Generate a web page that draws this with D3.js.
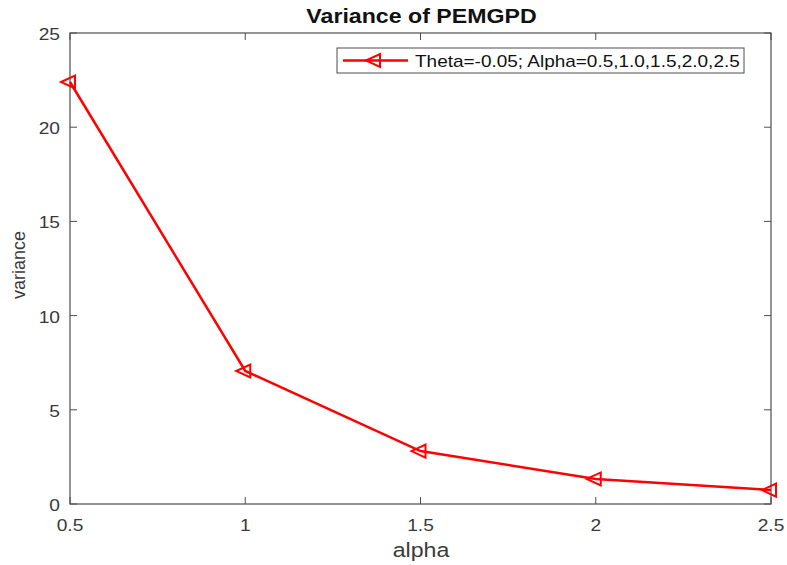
<!DOCTYPE html>
<html>
<head>
<script src="https://d3js.org/d3.v7.min.js"></script>
<style>
  body { margin: 0; background: #fff; }
  text { font-family: "Liberation Sans", Arial, sans-serif; }
</style>
</head>
<body>
<svg width="787" height="565" id="chart"></svg>
<script>
const alphaVals = [0.5, 1.0, 1.5, 2.0, 2.5];
const varianceVals = [22.4, 7.06, 2.81, 1.33, 0.74];
const xTicks = [0.5, 1, 1.5, 2, 2.5];
const yTicks = [0, 5, 10, 15, 20, 25];
const legendLabel = "Theta=-0.05; Alpha=0.5,1.0,1.5,2.0,2.5";

const svg = d3.select("#chart");
const margin = {left: 70, right: 16, top: 33, bottom: 61};
const W = 787, H = 565;
const axisCol = "#4d4d4d", textCol = "#3a3a3a", red = "#ff0000";
const sx = 1.13; // text in the picture is a bit wider than it is tall

const x = d3.scaleLinear().domain([0.5, 2.5]).range([margin.left, W - margin.right]);
const y = d3.scaleLinear().domain([0, 25]).range([H - margin.bottom, margin.top]);

// helper: stretched text
function txt(parent, px, py, str, size, anchor, col, weight) {
  return parent.append("text")
    .attr("transform", `translate(${px},${py}) scale(${sx},1)`)
    .attr("text-anchor", anchor).attr("font-size", size)
    .attr("font-weight", weight || "normal").attr("fill", col).text(str);
}

// box
svg.append("rect")
  .attr("x", x(0.5)).attr("y", y(25))
  .attr("width", x(2.5) - x(0.5)).attr("height", y(0) - y(25))
  .attr("fill", "none").attr("stroke", axisCol).attr("stroke-width", 1.2);

// ticks inward on all 4 sides
const tl = 7;
const g = svg.append("g");
xTicks.forEach(t => {
  g.append("line").attr("x1", x(t)).attr("x2", x(t)).attr("y1", y(0)).attr("y2", y(0) - tl).attr("stroke", axisCol);
  g.append("line").attr("x1", x(t)).attr("x2", x(t)).attr("y1", y(25)).attr("y2", y(25) + tl).attr("stroke", axisCol);
  txt(g, x(t), y(0) + 27, t, 17, "middle", textCol);
});
yTicks.forEach(t => {
  g.append("line").attr("x1", x(0.5)).attr("x2", x(0.5) + tl).attr("y1", y(t)).attr("y2", y(t)).attr("stroke", axisCol);
  g.append("line").attr("x1", x(2.5)).attr("x2", x(2.5) - tl).attr("y1", y(t)).attr("y2", y(t)).attr("stroke", axisCol);
  txt(g, x(0.5) - 10, y(t) + 7, t, 17, "end", textCol);
});

// labels
txt(svg, 421.5, 23, "Variance of PEMGPD", 20.5, "middle", "#111", "bold");
txt(svg, 421, 557, "alpha", 20.5, "middle", textCol);
svg.append("text").attr("transform", `translate(25,265) rotate(-90)`).attr("text-anchor", "middle")
  .attr("font-size", 18).attr("fill", textCol).text("variance");

// line
const pts = alphaVals.map((a, i) => [a, varianceVals[i]]);
svg.append("path").datum(pts)
  .attr("d", d3.line().x(d => x(d[0])).y(d => y(d[1])))
  .attr("fill", "none").attr("stroke", red).attr("stroke-width", 2.5);

const tri = "M-9,0 L5,-6.5 L5,6.5 Z";
svg.selectAll("path.mk").data(pts).join("path").attr("class", "mk")
  .attr("transform", d => `translate(${x(d[0])},${y(d[1])})`)
  .attr("d", tri).attr("fill", "none").attr("stroke", red).attr("stroke-width", 2);

// legend
const lg = svg.append("g");
lg.append("rect").attr("x", 337).attr("y", 48).attr("width", 407).attr("height", 25)
  .attr("fill", "#fff").attr("stroke", axisCol).attr("stroke-width", 1);
lg.append("line").attr("x1", 343).attr("x2", 408).attr("y1", 60.5).attr("y2", 60.5)
  .attr("stroke", red).attr("stroke-width", 2.5);
lg.append("path").attr("transform", "translate(375,60.5)").attr("d", tri)
  .attr("fill", "none").attr("stroke", red).attr("stroke-width", 2);
txt(lg, 415, 66.5, legendLabel, 16.8, "start", "#111");
</script>
</body>
</html>
